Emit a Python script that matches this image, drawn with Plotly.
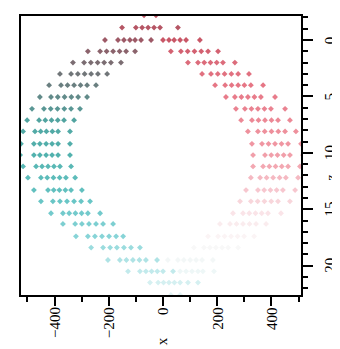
import plotly.graph_objects as go

# Row z positions
z_rows = [-2.2, -1.1, 0.0, 1.0, 2.0, 3.0, 4.0, 5.05, 6.1, 7.1, 8.1, 9.2, 10.2,
          11.2, 12.2, 13.3, 14.3, 15.35, 16.3, 17.4, 18.4, 19.5, 20.5, 21.5, 22.6]

# x positions of the left-hand point group on each row
left_x = [
    [-70, -26],
    [-151, -100, -77, -55, -33, -11, 55],
    [-214, -166, -144, -122, -103, -81, -44],
    [-277, -232, -208, -184, -160, -136, -103],
    [-332, -291, -266, -241, -217, -192, -155],
    [-380, -339, -314, -289, -265, -240, -206],
    [-420, -376, -352, -328, -304, -280, -247],
    [-454, -413, -388, -363, -338, -313, -280],
    [-483, -439, -414, -389, -364, -339, -306],
    [-501, -457, -434, -411, -388, -365, -328],
    [-516, -472, -451, -430, -408, -387, -343],
    [-524, -476, -454, -431, -409, -387, -343],
    [-527, -476, -454, -431, -409, -387, -343],
    [-516, -468, -446, -424, -402, -380, -339],
    [-498, -450, -427, -404, -381, -358, -324],
    [-476, -424, -403, -382, -360, -339, -299],
    [-450, -406, -380, -354, -328, -302, -269],
    [-413, -369, -346, -323, -300, -277, -232],
    [-369, -324, -299, -273, -247, -221, -184],
    [-321, -277, -251, -225, -199, -173, -147],
    [-265, -221, -195, -170, -144, -118, -85],
    [-203, -159, -135, -111, -87, -63, -22],
    [-129, -85, -63, -42, -21, 0, 37],
    [-48, -18, 2, 22, 42, 63, 92, 129],
    [29, 63],
]

# x positions of the right-hand point group on each row
right_x = [
    [],
    [],
    [0, 22, 41, 63, 85, 136],
    [29, 66, 91, 116, 141, 166, 203],
    [92, 129, 152, 175, 198, 221, 265],
    [144, 177, 202, 227, 252, 277, 317],
    [192, 229, 253, 277, 300, 324, 369],
    [232, 265, 289, 313, 337, 361, 413],
    [269, 302, 326, 350, 374, 398, 450],
    [288, 328, 352, 376, 400, 424, 468],
    [313, 350, 375, 400, 425, 450, 490],
    [328, 365, 389, 413, 437, 461, 509],
    [332, 376, 399, 422, 445, 468, 516],
    [332, 369, 392, 415, 438, 461, 505],
    [324, 358, 382, 406, 430, 453, 498],
    [306, 350, 373, 396, 419, 442, 487],
    [284, 324, 349, 374, 399, 424, 468],
    [258, 295, 318, 341, 364, 387, 435],
    [210, 247, 271, 295, 319, 343, 380],
    [166, 203, 227, 251, 275, 299, 336],
    [114, 151, 173, 195, 218, 240, 277],
    [18, 55, 77, 100, 122, 144, 184],
    [63, 85, 107, 129, 147, 188],
    [],
    [],
]

# colour value of each group (position around the ring)
left_val = [0.01, 0.02, 0.05, 0.08, 0.11, 0.14, 0.17, 0.20, 0.23, 0.26, 0.29, 0.31,
            0.33, 0.36, 0.38, 0.40, 0.43, 0.46, 0.49, 0.52, 0.55, 0.58, 0.61, 0.64, 0.66]
right_val = [0.99, 0.99, 0.99, 0.97, 0.95, 0.94, 0.93, 0.92, 0.91, 0.90, 0.89, 0.88,
             0.87, 0.86, 0.84, 0.82, 0.80, 0.78, 0.76, 0.74, 0.72, 0.70, 0.68, 0.67, 0.67]

x_ticks = [-400, -200, 0, 200, 400]
x_tick_labels = ["\u2212400", "\u2212200", "0", "200", "400"]
z_ticks = [0, 5, 10, 15, 20]

xs, zs, cs = [], [], []
for z, lx, rx, lv, rv in zip(z_rows, left_x, right_x, left_val, right_val):
    for v in lx:
        xs.append(v); zs.append(z); cs.append(lv)
    for v in rx:
        xs.append(v); zs.append(z); cs.append(rv)

cscale = [
    [0.00, "rgb(196,82,98)"],
    [0.06, "rgb(150,92,104)"],
    [0.12, "rgb(118,112,116)"],
    [0.18, "rgb(104,130,130)"],
    [0.26, "rgb(82,164,160)"],
    [0.33, "rgb(82,178,174)"],
    [0.42, "rgb(102,196,196)"],
    [0.52, "rgb(135,212,215)"],
    [0.60, "rgb(188,232,234)"],
    [0.68, "rgb(238,247,247)"],
    [0.73, "rgb(251,248,248)"],
    [0.78, "rgb(250,228,232)"],
    [0.84, "rgb(245,185,194)"],
    [0.88, "rgb(240,150,162)"],
    [0.93, "rgb(230,118,133)"],
    [1.00, "rgb(196,82,98)"],
]

fig = go.Figure(go.Scatter(
    x=xs, y=zs, mode="markers",
    marker=dict(symbol="diamond", size=4.5, color=cs, colorscale=cscale,
                cmin=0, cmax=1, line=dict(width=0)),
    showlegend=False, hoverinfo="skip",
))

font = dict(family="Liberation Serif", size=15, color="black")

annotations = [
    dict(text="x", xref="paper", yref="paper", x=0.504, y=-0.165,
         showarrow=False, textangle=-90, font=font,
         xanchor="center", yanchor="middle"),
    dict(text="z", xref="paper", yref="paper", x=1.138, y=0.42,
         showarrow=False, textangle=-90, font=dict(family="Liberation Serif", size=14),
         xanchor="center", yanchor="middle", borderpad=0, xshift=-8),
]
for t in z_ticks:
    annotations.append(dict(text=str(t), xref="paper", yref="y", x=1.104, y=t,
                            showarrow=False, textangle=-90, font=font,
                            xanchor="center", yanchor="middle"))
for v, lab in zip(x_ticks, x_tick_labels):
    annotations.append(dict(text=lab, xref="x", yref="paper", x=v, y=-0.036,
                            showarrow=False, textangle=-90, font=font,
                            xanchor="center", yanchor="top"))

fig.update_layout(
    width=340, height=349,
    margin=dict(l=13, r=47, t=8, b=62),
    paper_bgcolor="white", plot_bgcolor="white",
    font=font,
    xaxis=dict(
        range=[-523.6, 508.8], side="bottom", showgrid=False, zeroline=False,
        showline=True, linecolor="black", linewidth=2, mirror=True,
        ticks="outside", ticklen=9, tickwidth=2, tickcolor="black",
        tickvals=x_ticks, showticklabels=False, automargin=False,
        minor=dict(dtick=100, tick0=0, ticks="outside", ticklen=5, tickwidth=2,
                   tickcolor="black", showgrid=False),
    ),
    yaxis=dict(
        range=[22.6, -2.13], side="right", showgrid=False, zeroline=False,
        showline=True, linecolor="black", linewidth=2, mirror=True,
        ticks="outside", ticklen=10, tickwidth=2, tickcolor="black",
        tickvals=z_ticks, showticklabels=False, automargin=False,
        minor=dict(dtick=1, tick0=0, ticks="outside", ticklen=5, tickwidth=2,
                   tickcolor="black", showgrid=False),
    ),
    annotations=annotations,
)

fig.write_html("out.html")
